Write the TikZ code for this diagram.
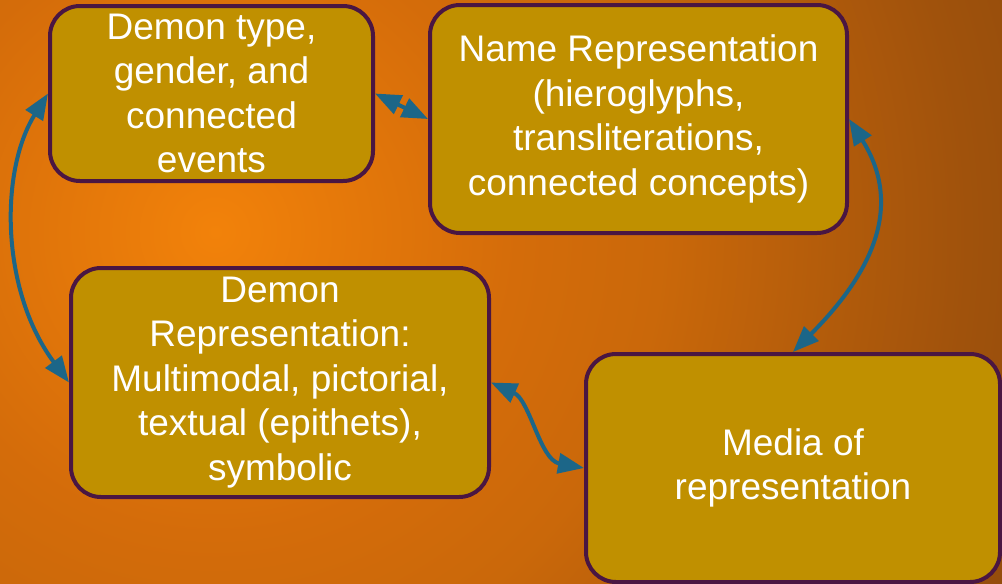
\documentclass[tikz,border=0pt]{standalone}
\usepackage{fontspec}
\setmainfont{Liberation Sans}
\usetikzlibrary{arrows.meta}
\definecolor{boxfill}{RGB}{192,144,0}
\definecolor{boxline}{RGB}{74,22,66}
\definecolor{arrowcol}{RGB}{28,102,136}
\definecolor{bgA}{RGB}{242,130,10}
\definecolor{bgB}{RGB}{212,108,10}
\definecolor{bgC}{RGB}{202,104,10}
\definecolor{bgD}{RGB}{160,82,12}
\definecolor{bgE}{RGB}{145,75,12}
\pgfdeclareradialshading{bgshade}{\pgfpoint{0bp}{0bp}}{color(0bp)=(bgA); color(8.4bp)=(bgB); color(12.4bp)=(bgC); color(20.9bp)=(bgD); color(25bp)=(bgE); color(50bp)=(bgE)}
\tikzset{
  blockbox/.style={draw=boxline, line width=4pt, fill=boxfill, rounded corners=30pt,
    text=white, align=center, inner sep=0pt,
    font=\fontsize{37}{44.5}\selectfont},
  link/.style={draw=arrowcol, line width=4pt,
    {Triangle[length=26pt,width=20pt]}-{Triangle[length=26pt,width=20pt]}}
}
\begin{document}
\begin{tikzpicture}[x=1pt,y=-1pt]
\useasboundingbox (0,0) rectangle (1002,584);
\begin{scope}
\clip (0,0) rectangle (1002,584);
\shade[shading=bgshade] (215,232) circle (900pt);
\end{scope}
\node[blockbox, minimum width=323pt, minimum height=175pt] (b1) at (211.5,93.5)
  {Demon type,\\gender, and\\connected\\events};
\node[blockbox, minimum width=417pt, minimum height=228pt] (b2) at (638.5,119)
  {Name Representation\\(hieroglyphs,\\transliterations,\\connected concepts)};
\node[blockbox, minimum width=418pt, minimum height=229pt] (b3) at (280,382.5)
  {Demon\\Representation:\\Multimodal, pictorial,\\textual (epithets),\\symbolic};
\node[blockbox, minimum width=414pt, minimum height=228pt] (b4) at (793,468)
  {Media of\\representation};
\draw[link] (b1.east) -- (b2.west);
\draw[link] (b1.west) .. controls (0,170) and (0,290) .. (b3.west);
\draw[link] (b2.east) .. controls (900,200) and (880,265) .. (b4.north);
\draw[link] (b3.east) .. controls (530,400) and (540,460) .. (b4.west);
\end{tikzpicture}
\end{document}
